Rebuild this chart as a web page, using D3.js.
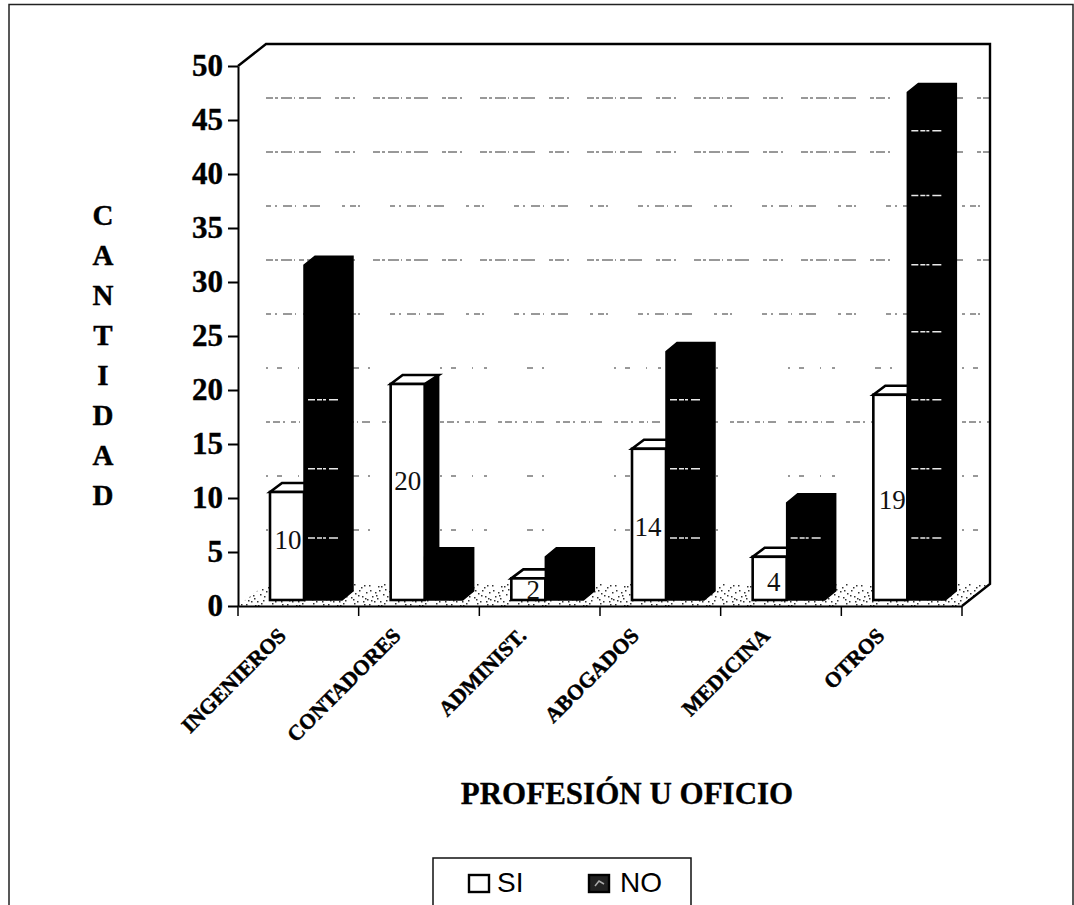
<!DOCTYPE html>
<html><head><meta charset="utf-8">
<script src="https://d3js.org/d3.v7.min.js"></script>
<style>html,body{margin:0;padding:0;background:#fff}svg{display:block}</style>
</head><body><svg id="chart" width="1074" height="905"></svg>
<script>
const categories=["INGENIEROS","CONTADORES","ADMINIST.","ABOGADOS","MEDICINA","OTROS"];
const siValues=[10,20,2,14,4,19];
const noValues=[31,4,4,23,9,47];
const yTicks=[0,5,10,15,20,25,30,35,40,45,50];
const seriesNames=["SI","NO"];
const svg=d3.select("#chart");
const ser='"Liberation Serif",serif', sans='"Liberation Sans",sans-serif';
const defs=svg.append("defs");
const pat=defs.append("pattern").attr("id","st").attr("width",41).attr("height",19).attr("patternUnits","userSpaceOnUse");
[[1,1],[6,3],[10,1],[3,7],[8,9],[14,5],[5,12],[0,15],[17,11],[20,2],[23,8],[27,4],[31,1],[29,12],[34,7],[38,3],[36,15],[12,16],[22,17],[26,14],[16,0],[39,10],[11,12],[33,17],[7,6],[18,7],[25,10],[30,6],[2,11],[15,14],[37,9],[9,16],[24,1],[35,12]]
 .forEach(p=>pat.append("rect").attr("x",p[0]).attr("y",p[1]).attr("width",1.5).attr("height",1.5).attr("fill","#333"));
const L=238,R=962,B=606,T=66,dx=28,dy=-22;
const x=d3.scaleBand().domain(categories).range([L,R]);
const y=d3.scaleLinear().domain([0,50]).range([B,T]);
// page frame
svg.append("path").attr("d","M9,905V4.5H1073V905").attr("fill","none").attr("stroke","#222").attr("stroke-width",1.5);
// floor
svg.append("path").attr("d",`M${L},${B}L${R},${B}L${R+dx},${B+dy}L${L+dx},${B+dy}Z`).attr("fill","url(#st)");
// back-wall grid: the scan has worn these lines to broken dashes, more so towards the bottom
const gridDash=d=>(d>=40||d===30)?"7 2 3 3 11 2 1 4 5 3 14 14 4 2 9 3 2 18":
  d>=25?"5 4 2 6 9 3 1 7 4 3 10 22 3 5 6 2 2 30":
  d===15?"4 3 7 3 2 6 5 3 1 4 8 12":
  "2 9 5 16 1 11 3 40 6 9 2 70";
svg.append("g").selectAll("line").data(yTicks.filter(d=>d>0&&d<50)).join("line")
 .attr("x1",L+dx).attr("x2",R+dx).attr("y1",d=>y(d)+dy).attr("y2",d=>y(d)+dy)
 .attr("stroke","#333").attr("stroke-width",1).attr("stroke-dasharray",gridDash);
// walls
svg.append("path").attr("d",`M${L},${T}L${L+dx},${T+dy}H${R+dx}V${B+dy}L${R},${B}`).attr("fill","none").attr("stroke","#000").attr("stroke-width",2.4);
// bars
const barW=34, noW=38, off=32, depth=12, dd=-9, lift=6;
const fleckLevels=[6.3,12.7,19.1,25.4,31.6,38,44];
const fleckCounts=[3,0,0,3,1,7];
const labelDx=[0,-1,4,-2,3,1], labelDy=[-5,-10,2,4,5,4];
const gBars=svg.append("g");
const base=B-lift;
const topOf=v=>y(v)-lift;
categories.forEach((cat,i)=>{
  const x0=x(cat)+off, s=siValues[i], n=noValues[i], xn=x0+barW;
  const g=gBars.append("g");
  // SI side (black) and top
  g.append("path").attr("d",`M${xn},${base}V${topOf(s)}l${depth+2},${dd}V${base+dd}Z`).attr("fill","#000").attr("stroke","#000").attr("stroke-width",1.5);
  g.append("path").attr("d",`M${x0},${topOf(s)}l${depth},${dd}h${barW+2}l${-depth-2},${-dd}Z`).attr("fill","#fff").attr("stroke","#000").attr("stroke-width",2.6);
  g.append("rect").attr("x",x0).attr("y",topOf(s)).attr("width",barW).attr("height",base-topOf(s)).attr("fill","#fff").attr("stroke","#000").attr("stroke-width",2.6);
  // NO
  g.append("path").attr("d",`M${xn},${base}V${topOf(n)}l${depth-1},${dd}h${noW}V${base+dd}l${-depth+1},${-dd}Z`).attr("fill","#000").attr("stroke","#000").attr("stroke-width",1.5);
  fleckLevels.slice(0,fleckCounts[i]).forEach(l=>{
    g.append("line").attr("x1",xn+4).attr("x2",xn+34).attr("y1",y(l)).attr("y2",y(l))
     .attr("stroke","#e8e8e8").attr("stroke-width",1.5).attr("stroke-dasharray","7 2 5 1 3 3 9");
  });
  g.append("text").attr("x",x0+barW/2+1+labelDx[i]).attr("y",(base+topOf(s))/2+8+labelDy[i]).attr("text-anchor","middle")
   .attr("font-family",ser).attr("font-size",27).attr("fill","#111").text(s);
});
// axes
const ay=svg.append("g").attr("transform",`translate(${L},0)`).call(d3.axisLeft(y).tickValues(yTicks).tickSize(10).tickPadding(5).tickSizeOuter(0));
ay.selectAll("text").attr("font-family",ser).attr("font-weight","bold").attr("font-size",31).attr("fill","#000").attr("stroke","#000").attr("stroke-width",.4);
ay.selectAll("line,path").attr("stroke","#000").attr("stroke-width",2);
const ax=svg.append("g").attr("transform",`translate(0,${B})`).call(d3.axisBottom(x).tickValues([]).tickSizeOuter(0));
ax.selectAll("path").attr("stroke","#000").attr("stroke-width",2.2);
ax.selectAll("line.t").data(d3.range(0,7)).join("line").attr("class","t").attr("x1",i=>L+i*x.step()).attr("x2",i=>L+i*x.step()).attr("y1",0).attr("y2",10).attr("stroke","#000").attr("stroke-width",1.5);
// category labels
const catNudge=[-11,-17,-12,-20,-10,-16];
svg.append("g").selectAll("text").data(categories).join("text")
 .attr("transform",(d,i)=>`translate(${x(d)+x.bandwidth()/2+catNudge[i]},${B+31}) rotate(-45)`)
 .attr("text-anchor","end").attr("font-family",ser).attr("font-weight","bold").attr("font-size",21.5).attr("fill","#000").attr("stroke","#000").attr("stroke-width",.5).text(d=>d);
// y title
svg.append("g").selectAll("text").data("CANTIDAD".split("")).join("text")
 .attr("x",103).attr("y",(d,i)=>225+i*40).attr("text-anchor","middle").attr("font-family",ser).attr("font-weight","bold").attr("font-size",29).attr("fill","#000").attr("stroke","#000").attr("stroke-width",.4).text(d=>d);
// x title
svg.append("text").attr("x",627).attr("y",804).attr("text-anchor","middle").attr("font-family",ser).attr("font-weight","bold").attr("font-size",31).attr("fill","#000").attr("stroke","#000").attr("stroke-width",.3).text("PROFESIÓN U OFICIO");
// legend
svg.append("path").attr("d","M433,905V858H691V905").attr("fill","none").attr("stroke","#111").attr("stroke-width",1.5);
const lx=[469,589];
seriesNames.forEach((s,i)=>{
  svg.append("rect").attr("x",lx[i]).attr("y",875).attr("width",20).attr("height",17).attr("fill",i?"#222":"#fff").attr("stroke","#000").attr("stroke-width",2.4);
  if(i) svg.append("path").attr("d",`M${lx[i]+6},${886}l4,-5l5,3`).attr("fill","none").attr("stroke","#aaa").attr("stroke-width",1.5);
  svg.append("text").attr("x",lx[i]+28+(i?3:0)).attr("y",892).attr("font-family",sans).attr("font-size",28).attr("fill","#000").text(s);
});
</script></body></html>
